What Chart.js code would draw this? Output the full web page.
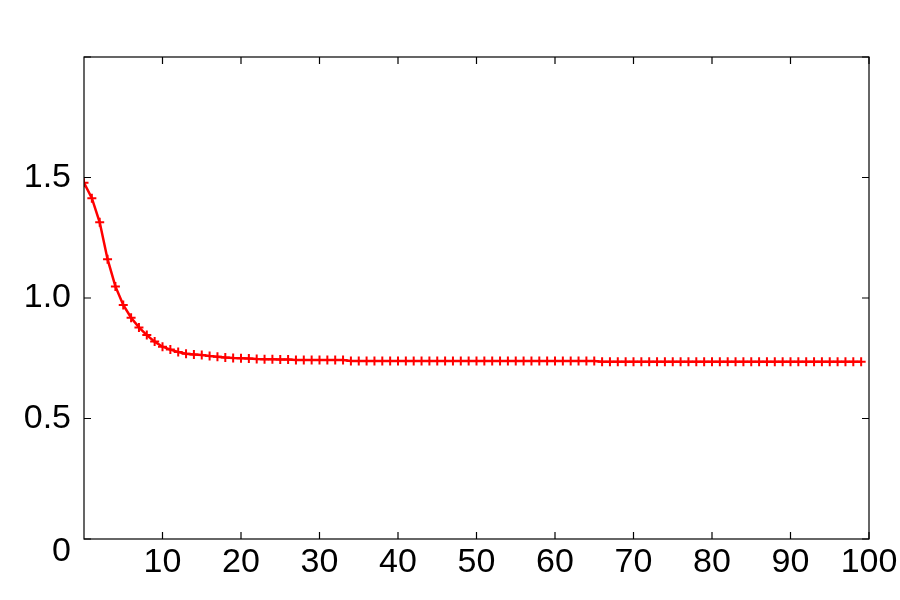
<!DOCTYPE html>
<html>
<head>
<meta charset="utf-8">
<script src="https://cdn.jsdelivr.net/npm/chart.js@4/dist/chart.umd.min.js"></script>
<style>
  html, body { margin: 0; padding: 0; background: #fff; }
  #chart { display: block; }
</style>
</head>
<body>
<canvas id="chart" width="900" height="600"></canvas>
<script>
// y value at each step 0..99
const yValues = [
  1.478, 1.414, 1.314, 1.161, 1.048, 0.971, 0.918, 0.878, 0.846, 0.819,
  0.798, 0.786, 0.776, 0.769, 0.766, 0.763, 0.759, 0.756, 0.753, 0.751,
  0.750, 0.749, 0.747, 0.746, 0.746, 0.745, 0.745, 0.743, 0.743, 0.743,
  0.743, 0.743, 0.743, 0.743, 0.739, 0.739, 0.739, 0.739, 0.739, 0.739,
  0.739, 0.739, 0.739, 0.739, 0.739, 0.739, 0.739, 0.739, 0.739, 0.739,
  0.739, 0.739, 0.739, 0.739, 0.739, 0.739, 0.739, 0.739, 0.739, 0.739,
  0.739, 0.739, 0.739, 0.739, 0.739, 0.739, 0.735, 0.735, 0.735, 0.735,
  0.735, 0.735, 0.735, 0.735, 0.735, 0.735, 0.735, 0.735, 0.735, 0.735,
  0.735, 0.735, 0.735, 0.735, 0.735, 0.735, 0.735, 0.735, 0.735, 0.735,
  0.735, 0.735, 0.735, 0.735, 0.735, 0.735, 0.735, 0.735, 0.735, 0.735
];
const xTicks = [10, 20, 30, 40, 50, 60, 70, 80, 90, 100];
const yTicks = [0, 0.5, 1.0, 1.5];

const FONT = '"Liberation Sans", Arial, Helvetica, sans-serif';

// frame with inward ticks on all four sides
const framePlugin = {
  id: 'frame',
  afterDraw(chart) {
    const { ctx, chartArea: a, scales } = chart;
    const len = 7;
    ctx.save();
    ctx.strokeStyle = '#000';
    ctx.lineWidth = 1.2;
    ctx.strokeRect(a.left, a.top, a.right - a.left, a.bottom - a.top);
    ctx.beginPath();
    xTicks.forEach(v => {
      const px = scales.x.getPixelForValue(v);
      ctx.moveTo(px, a.bottom); ctx.lineTo(px, a.bottom - len);
      ctx.moveTo(px, a.top); ctx.lineTo(px, a.top + len);
    });
    yTicks.concat([2]).forEach(v => {
      const py = scales.y.getPixelForValue(v);
      ctx.moveTo(a.left, py); ctx.lineTo(a.left + len, py);
      ctx.moveTo(a.right, py); ctx.lineTo(a.right - len, py);
    });
    ctx.stroke();
    ctx.restore();
  }
};

new Chart(document.getElementById('chart').getContext('2d'), {
  type: 'line',
  data: {
    datasets: [{
      data: yValues.map((v, i) => ({ x: i, y: v })),
      borderColor: '#ff0000',
      backgroundColor: '#ff0000',
      borderWidth: 2.5,
      pointStyle: 'cross',
      pointRadius: 4.5,
      pointBorderWidth: 2,
      pointBorderColor: '#ff0000',
      tension: 0,
      fill: false
    }]
  },
  options: {
    responsive: false,
    animation: false,
    devicePixelRatio: 1,
    layout: { padding: { top: 57, right: 31, left: 0, bottom: 0 } },
    plugins: {
      legend: { display: false },
      tooltip: { enabled: false }
    },
    scales: {
      x: {
        type: 'linear',
        min: 0,
        max: 100,
        grid: { display: false, drawTicks: false, tickLength: 0 },
        border: { display: false },
        afterBuildTicks: s => { s.ticks = xTicks.map(v => ({ value: v })); },
        afterFit: s => { s.height = 61; s.paddingLeft = 0; s.paddingRight = 0; },
        ticks: {
          padding: 7,
          maxRotation: 0,
          autoSkip: false,
          color: '#000',
          font: { family: FONT, size: 34, lineHeight: 1.0 },
          callback: v => String(v)
        }
      },
      y: {
        min: 0,
        max: 2,
        grid: { display: false, drawTicks: false, tickLength: 0 },
        border: { display: false },
        afterBuildTicks: s => { s.ticks = yTicks.map(v => ({ value: v })); },
        afterFit: s => { s.width = 84; s.paddingTop = 0; s.paddingBottom = 0; },
        ticks: {
          padding: 13,
          autoSkip: false,
          color: '#000',
          font: { family: FONT, size: 34, lineHeight: 0.73 },
          // the zero label sits a bit under the axis
          callback: v => v === 0 ? ['', '0'] : v.toFixed(1)
        }
      }
    }
  },
  plugins: [framePlugin]
});
</script>
</body>
</html>
